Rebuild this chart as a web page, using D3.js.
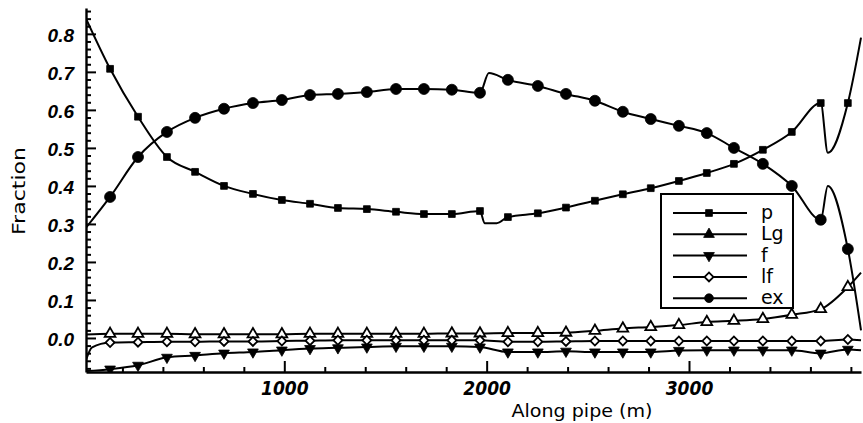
<!DOCTYPE html>
<html>
<head>
<meta charset="utf-8">
<script src="https://cdn.jsdelivr.net/npm/d3@7/dist/d3.min.js"></script>
<style>
  html, body { margin: 0; padding: 0; background: #fff; }
  svg { display: block; }
</style>
</head>
<body>
<svg id="chart" width="863" height="423"></svg>
<script>
// ---------------- data ----------------
const markX = [139, 277, 420, 559, 702, 845, 988, 1127, 1265, 1408, 1552, 1690, 1828, 1967,
               2105, 2253, 2392, 2535, 2673, 2811, 2950, 3088, 3222, 3365, 3508, 3651, 3785];

const pMarks  = [0.708, 0.582, 0.476, 0.437, 0.400, 0.379, 0.363, 0.353, 0.342, 0.339, 0.332, 0.326, 0.326, 0.334,
                 0.318, 0.328, 0.343, 0.361, 0.378, 0.394, 0.413, 0.434, 0.458, 0.495, 0.542, 0.618, 0.618];
const pExtra  = [[20, 0.84], [1990, 0.302], [2050, 0.302], [3686, 0.487], [3850, 0.79]];

const lgMarks = [0.011, 0.011, 0.011, 0.010, 0.010, 0.010, 0.010, 0.011, 0.011, 0.011, 0.011, 0.011, 0.012, 0.012,
                 0.013, 0.013, 0.014, 0.019, 0.025, 0.029, 0.034, 0.042, 0.045, 0.050, 0.061, 0.076, 0.134];
const lgExtra = [[20, 0.009], [3850, 0.172]];

const fMarks  = [-0.082, -0.072, -0.051, -0.046, -0.040, -0.037, -0.032, -0.028, -0.026, -0.024, -0.022, -0.022, -0.022, -0.024,
                 -0.037, -0.037, -0.035, -0.037, -0.037, -0.037, -0.033, -0.032, -0.032, -0.032, -0.032, -0.040, -0.030];
const fExtra  = [[20, -0.087], [3850, -0.032]];

const lfMarks = [-0.012, -0.011, -0.010, -0.010, -0.009, -0.009, -0.008, -0.007, -0.006, -0.006, -0.006, -0.006, -0.006, -0.006,
                 -0.010, -0.010, -0.009, -0.008, -0.008, -0.008, -0.008, -0.008, -0.008, -0.008, -0.008, -0.008, -0.004];
const lfExtra = [[20, -0.058], [50, -0.025], [3850, -0.006]];

const exMarks = [0.371, 0.476, 0.542, 0.579, 0.603, 0.618, 0.626, 0.639, 0.642, 0.647, 0.655, 0.655, 0.653, 0.645,
                 0.679, 0.663, 0.642, 0.624, 0.595, 0.576, 0.558, 0.539, 0.500, 0.458, 0.400, 0.311, 0.234];
const exExtra = [[20, 0.29], [2011, 0.697], [3686, 0.40], [3850, 0.02]];

const seriesNames = ["p", "Lg", "f", "lf", "ex"];
const yMajorTicks = [0.0, 0.1, 0.2, 0.3, 0.4, 0.5, 0.6, 0.7, 0.8];
const xMajorTicks = [1000, 2000, 3000];
const xTitle = "Along pipe (m)";
const yTitle = "Fraction";

// ---------------- layout ----------------
const svg = d3.select("#chart");
const L = 86, R = 861, T = 8, B = 372;

const x = d3.scaleLinear().domain([20, 3850]).range([L, R]);
const y = d3.scaleLinear().domain([-0.0895, 0.868]).range([B, T]);

const series = [
  { name: "p",  marks: pMarks,  extra: pExtra,  sym: "square" },
  { name: "Lg", marks: lgMarks, extra: lgExtra, sym: "triUpOpen" },
  { name: "f",  marks: fMarks,  extra: fExtra,  sym: "triDown" },
  { name: "lf", marks: lfMarks, extra: lfExtra, sym: "diamond" },
  { name: "ex", marks: exMarks, extra: exExtra, sym: "circle" }
];

function symbolPath(kind) {
  switch (kind) {
    case "square":    return d3.symbol(d3.symbolSquare, 46)();
    case "triUpOpen": return d3.symbol(d3.symbolTriangle, 50)();
    case "triUp":     return d3.symbol(d3.symbolTriangle, 50)();
    case "triDown":   return d3.symbol(d3.symbolTriangle, 50)();
    case "diamond":   return d3.symbol(d3.symbolSquare, 40)();
    case "circle":    return d3.symbol(d3.symbolCircle, 95)();
  }
}
function symbolAttrs(sel, kind) {
  sel.attr("d", symbolPath(kind))
     .attr("fill", (kind === "triUpOpen" || kind === "diamond") ? "#fff" : "#000")
     .attr("stroke", "#000")
     .attr("stroke-width", (kind === "triUpOpen" || kind === "diamond") ? 1.8 : 0.8);
}
function symbolRot(kind) {
  if (kind === "triDown") return " rotate(180)";
  if (kind === "diamond") return " rotate(45)";
  return "";
}

// clip
svg.append("defs").append("clipPath").attr("id", "plotclip")
  .append("rect").attr("x", L).attr("y", 0).attr("width", R - L + 2).attr("height", B - 0);

const plot = svg.append("g").attr("clip-path", "url(#plotclip)");

const line = d3.line().x(d => x(d[0])).y(d => y(d[1])).curve(d3.curveMonotoneX);

series.forEach(s => {
  const pts = markX.map((xx, i) => [xx, s.marks[i]]).concat(s.extra).sort((a, b) => a[0] - b[0]);
  plot.append("path").datum(pts)
    .attr("d", line)
    .attr("fill", "none")
    .attr("stroke", "#000")
    .attr("stroke-width", 2)
    .attr("stroke-linejoin", "round");
});

series.forEach(s => {
  plot.append("g").selectAll("path")
    .data(markX.map((xx, i) => [xx, s.marks[i]]))
    .join("path")
    .attr("transform", d => `translate(${x(d[0])},${y(d[1])})${symbolRot(s.sym)}`)
    .call(symbolAttrs, s.sym);
});

// ---------------- axes ----------------
const yMinor = d3.range(-8, 87, 2).map(v => v / 100).filter(v => yMajorTicks.every(t => Math.abs(t - v) > 1e-6));
const xMinor = d3.range(200, 3850, 200).filter(v => xMajorTicks.indexOf(v) < 0);

const gy = svg.append("g").attr("transform", `translate(${L},0)`);
gy.call(d3.axisLeft(y).tickValues(yMinor).tickSizeInner(-5).tickSizeOuter(0).tickFormat(""));
gy.select(".domain").remove();
const gyM = svg.append("g").attr("transform", `translate(${L},0)`);
gyM.call(d3.axisLeft(y).tickValues(yMajorTicks).tickSizeInner(-10).tickSizeOuter(0)
  .tickPadding(12).tickFormat(d3.format(".1f")));
[gy, gyM].forEach(g => {
  g.selectAll(".tick line").attr("stroke", "#000").attr("stroke-width", 2);
});
gyM.select(".domain").attr("stroke", "#000").attr("stroke-width", 2.4);
gyM.selectAll(".tick text")
  .attr("font-family", "'Liberation Sans', Arial, sans-serif")
  .attr("font-style", "italic").attr("font-weight", "bold")
  .attr("font-size", 19).attr("fill", "#000").attr("dy", "0.4em");

const gx = svg.append("g").attr("transform", `translate(0,${B})`);
gx.call(d3.axisBottom(x).tickValues(xMinor).tickSizeInner(-5).tickSizeOuter(0).tickFormat(""));
gx.select(".domain").remove();
const gxM = svg.append("g").attr("transform", `translate(0,${B})`);
gxM.call(d3.axisBottom(x).tickValues(xMajorTicks).tickSizeInner(-11).tickSizeOuter(0)
  .tickPadding(10).tickFormat(d3.format("d")));
[gx, gxM].forEach(g => g.selectAll(".tick line").attr("stroke", "#000").attr("stroke-width", 2));
gxM.select(".domain").attr("stroke", "#000").attr("stroke-width", 2.4);
gxM.selectAll(".tick text")
  .attr("font-family", "'Liberation Sans Narrow', 'DejaVu Sans Condensed', sans-serif")
  .attr("font-style", "italic").attr("font-weight", "bold")
  .attr("font-size", 19).attr("fill", "#000");

// titles
svg.append("text")
  .attr("transform", "translate(25,191) rotate(-90)")
  .attr("text-anchor", "middle")
  .attr("font-family", "'DejaVu Sans', sans-serif")
  .attr("font-size", 18)
  .attr("textLength", 88).attr("lengthAdjust", "spacingAndGlyphs")
  .text(yTitle);

svg.append("text")
  .attr("x", 582).attr("y", 417)
  .attr("text-anchor", "middle")
  .attr("font-family", "'DejaVu Sans', sans-serif")
  .attr("font-size", 18)
  .attr("textLength", 141).attr("lengthAdjust", "spacingAndGlyphs")
  .text(xTitle);

// ---------------- legend ----------------
const lg = svg.append("g");
lg.append("rect").attr("x", 661).attr("y", 194).attr("width", 132).attr("height", 114)
  .attr("fill", "#fff").attr("stroke", "#000").attr("stroke-width", 2);
const legendSym = { p: "square", Lg: "triUp", f: "triDown", lf: "diamond", ex: "circle" };
seriesNames.forEach((n, i) => {
  const yy = 213 + i * 21.3;
  lg.append("line").attr("x1", 673).attr("x2", 747).attr("y1", yy).attr("y2", yy)
    .attr("stroke", "#000").attr("stroke-width", 2);
  const k = legendSym[n];
  lg.append("path")
    .attr("transform", `translate(709,${yy})${symbolRot(k)}`)
    .call(symbolAttrs, k)
    .attr("d", k === "circle" ? d3.symbol(d3.symbolCircle, 60)() : symbolPath(k));
  lg.append("text").attr("x", 761).attr("y", yy + 6)
    .attr("font-family", "'DejaVu Sans', sans-serif")
    .attr("font-size", 19)
    .text(n);
});
</script>
</body>
</html>
